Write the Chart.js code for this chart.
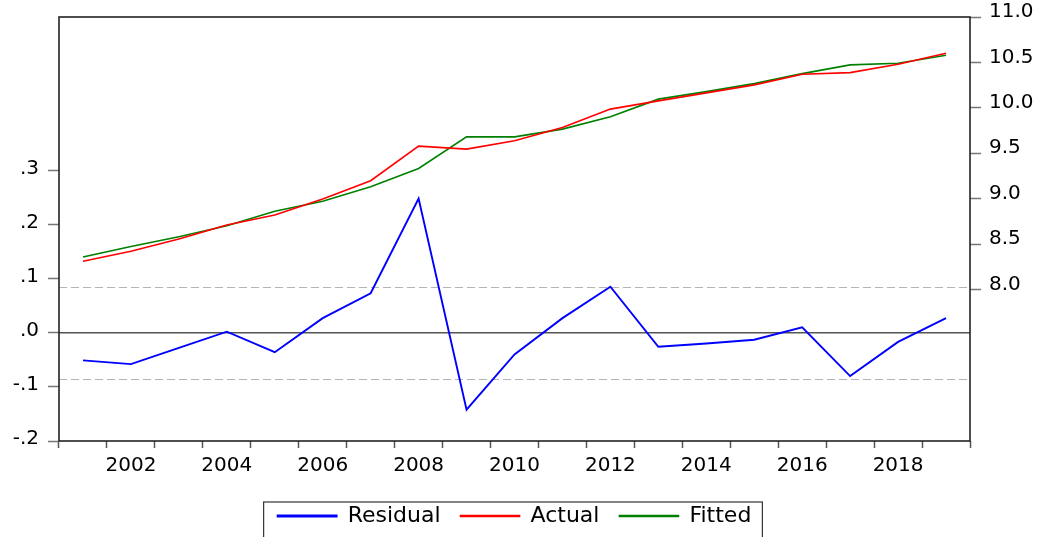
<!DOCTYPE html>
<html>
<head>
<meta charset="utf-8">
<title>Residual / Actual / Fitted</title>
<script src="https://cdn.jsdelivr.net/npm/chart.js@4.4.1/dist/chart.umd.min.js"></script>
<style>
  html, body { margin: 0; padding: 0; background: #fff; overflow: hidden; }
  canvas { display: block; }
</style>
</head>
<body>
<canvas id="residChart" width="1046" height="537"></canvas>
<script>
const years = ["2001", "2002", "2003", "2004", "2005", "2006", "2007", "2008", "2009", "2010",
  "2011", "2012", "2013", "2014", "2015", "2016", "2017", "2018", "2019"];

const residual = [-0.051, -0.058, -0.028, 0.002, -0.036, 0.027, 0.073, 0.248, -0.142, -0.040,
  0.027, 0.085, -0.026, -0.020, -0.013, 0.010, -0.080, -0.017, 0.027];
const actual = [8.311, 8.421, 8.557, 8.711, 8.821, 8.997, 9.198, 9.579, 9.546, 9.637,
  9.784, 9.986, 10.077, 10.165, 10.253, 10.370, 10.388, 10.480, 10.601];
const fitted = [8.359, 8.473, 8.582, 8.703, 8.861, 8.971, 9.132, 9.333, 9.681, 9.681,
  9.766, 9.901, 10.096, 10.179, 10.267, 10.377, 10.473, 10.491, 10.579];

const leftTicks = [-0.2, -0.1, 0.0, 0.1, 0.2, 0.3];
const rightTicks = [8.0, 8.5, 9.0, 9.5, 10.0, 10.5, 11.0];
const seBand = 0.085;

const font = { family: "'DejaVu Sans', sans-serif", size: 20 };
const legendFont = { family: "'DejaVu Sans', sans-serif", size: 22 };

function shortDecimal(v) {
  const s = Math.abs(v).toFixed(1).replace(/^0/, "");
  return (v < -1e-9 ? "-" : "") + s;
}

// reference lines, frame and legend box
const framePlugin = {
  id: "framePlugin",
  beforeDatasetsDraw(chart) {
    const ctx = chart.ctx;
    const area = chart.chartArea;
    const yl = chart.scales.y;
    ctx.save();
    ctx.lineWidth = 1.2;
    ctx.strokeStyle = "#b4b4b4";
    ctx.setLineDash([8, 4]);
    [seBand, -seBand].forEach((v) => {
      const py = Math.round(yl.getPixelForValue(v)) + 0.5;
      ctx.beginPath();
      ctx.moveTo(area.left, py);
      ctx.lineTo(area.right, py);
      ctx.stroke();
    });
    ctx.setLineDash([]);
    ctx.strokeStyle = "#555";
    ctx.lineWidth = 1.6;
    const zy = yl.getPixelForValue(0);
    ctx.beginPath();
    ctx.moveTo(area.left, zy);
    ctx.lineTo(area.right, zy);
    ctx.stroke();
    ctx.restore();
  },
  afterDraw(chart) {
    const ctx = chart.ctx;
    const area = chart.chartArea;
    ctx.save();
    ctx.strokeStyle = "#222";
    ctx.lineWidth = 1.6;
    ctx.strokeRect(area.left, area.top, area.right - area.left, area.bottom - area.top);

    const boxes = chart.legend.legendHitBoxes;
    if (boxes && boxes.length) {
      const first = boxes[0];
      const last = boxes[boxes.length - 1];
      const left = first.left - 14;
      const right = last.left + last.width + 11;
      const top = first.top - 3;
      ctx.strokeStyle = "#333";
      ctx.lineWidth = 1.2;
      ctx.strokeRect(left, top, right - left, chart.height - top + 10);
    }
    ctx.restore();
  },
};

// keep the plot frame where the reference has it
function fixSide(width) {
  return function (scale) {
    scale.width = width;
    scale.paddingTop = 0;
    scale.paddingBottom = 0;
  };
}

new Chart(document.getElementById("residChart"), {
  type: "line",
  data: {
    labels: years,
    datasets: [
      {
        label: "Residual",
        data: residual,
        yAxisID: "y",
        borderColor: "#0000ff",
        backgroundColor: "#0000ff",
        borderWidth: 1.9,
      },
      {
        label: "Actual",
        data: actual,
        yAxisID: "y1",
        borderColor: "#ff0000",
        backgroundColor: "#ff0000",
        borderWidth: 1.6,
      },
      {
        label: "Fitted",
        data: fitted,
        yAxisID: "y1",
        borderColor: "#008000",
        backgroundColor: "#008000",
        borderWidth: 1.6,
      },
    ],
  },
  options: {
    responsive: false,
    animation: false,
    layout: { padding: { top: 17, left: 0, right: 0, bottom: 0 } },
    elements: {
      point: { radius: 0, hoverRadius: 0 },
      line: { tension: 0 },
    },
    plugins: {
      tooltip: { enabled: false },
      legend: {
        position: "bottom",
        fullSize: false,
        labels: {
          boxWidth: 59,
          boxHeight: 1,
          padding: 20,
          color: "#000",
          font: legendFont,
        },
      },
    },
    scales: {
      x: {
        type: "category",
        offset: true,
        border: { display: false },
        grid: {
          offset: true,
          drawOnChartArea: false,
          tickLength: 7,
          tickColor: "#555",
          tickWidth: 1.5,
        },
        ticks: {
          autoSkip: false,
          maxRotation: 0,
          padding: 6,
          color: "#000",
          font: font,
          callback: function (value, index) {
            const y = years[index];
            return Number(y) % 2 === 0 ? y : "";
          },
        },
        afterFit: function (scale) {
          scale.height = 44;
        },
      },
      y: {
        position: "left",
        min: -0.2,
        max: 0.5833,
        border: { display: false },
        grid: { drawOnChartArea: false, tickLength: 11, tickColor: "#777", tickWidth: 1.5 },
        ticks: {
          padding: 9,
          labelOffset: -2,
          color: "#000",
          font: font,
          callback: (v) => shortDecimal(v),
        },
        afterBuildTicks: function (scale) {
          scale.ticks = leftTicks.map((v) => ({ value: v }));
        },
        afterFit: fixSide(59),
      },
      y1: {
        position: "right",
        min: 6.333,
        max: 11.0,
        border: { display: false },
        grid: { drawOnChartArea: false, tickLength: 11, tickColor: "#777", tickWidth: 1.5 },
        ticks: {
          padding: 8,
          labelOffset: -5,
          color: "#000",
          font: font,
          callback: (v) => Number(v).toFixed(1),
        },
        afterBuildTicks: function (scale) {
          scale.ticks = rightTicks.map((v) => ({ value: v }));
        },
        afterFit: fixSide(76),
      },
    },
  },
  plugins: [framePlugin],
});
</script>
</body>
</html>
